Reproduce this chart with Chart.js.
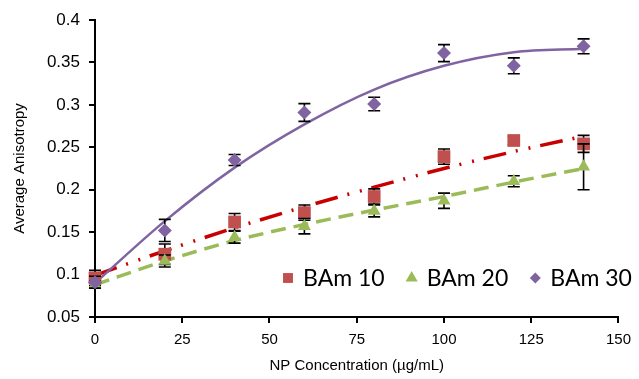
<!DOCTYPE html>
<html>
<head>
<meta charset="utf-8">
<script src="https://cdn.jsdelivr.net/npm/chart.js@4/dist/chart.umd.min.js"></script>
<style>
  html, body { margin: 0; padding: 0; background: #fff; }
  #wrap { width: 639px; height: 379px; }
</style>
</head>
<body>
<div id="wrap"><canvas id="anisoChart" width="639" height="379"></canvas></div>
<script>
// Data
const concentrations = [0, 20, 40, 60, 80, 100, 120, 140];

const bam10 = [0.096, 0.124, 0.162, 0.173, 0.192, 0.239, 0.258, 0.254];
const bam10Err = [0.009, 0.012, 0.010, 0.009, 0.009, 0.009, 0.005, 0.010];

const bam20 = [0.088, 0.116, 0.144, 0.157, 0.175, 0.187, 0.210, 0.227];
const bam20Err = [0.004, 0.007, 0.007, 0.009, 0.007, 0.009, 0.0065, 0.027];

const bam30 = [0.091, 0.152, 0.235, 0.291, 0.301, 0.361, 0.346, 0.369];
const bam30Err = [0.007, 0.013, 0.0065, 0.0105, 0.008, 0.010, 0.0094, 0.0088];

// Trend lines, read at the same concentrations
const trend10 = [0.099, 0.128, 0.155, 0.180, 0.203, 0.225, 0.245, 0.263];
const trend20 = [0.088, 0.116, 0.140, 0.159, 0.176, 0.192, 0.209, 0.225];
const trend30 = [0.090, 0.163, 0.226, 0.277, 0.318, 0.346, 0.362, 0.366];

const seriesNames = ['BAm 10', 'BAm 20', 'BAm 30'];

const xMin = 0, xMax = 150, xStep = 25;
const yMin = 0.05, yMax = 0.4, yStep = 0.05;

const toPoints = (ys) => concentrations.map((c, i) => ({ x: c, y: ys[i] }));

// Error bars drawn just under each marker series
const errorBars = {
    id: 'errorBars',
    beforeDatasetDraw(chart, args) {
        const ds = chart.data.datasets[args.index];
        if (!ds.errors) return;
        const { ctx, scales: { x, y } } = chart;
        ctx.save();
        ctx.strokeStyle = '#000';
        ctx.lineWidth = 1.6;
        ds.data.forEach((p, i) => {
            const px = x.getPixelForValue(p.x);
            const top = y.getPixelForValue(p.y + ds.errors[i]);
            const bot = y.getPixelForValue(p.y - ds.errors[i]);
            ctx.beginPath();
            ctx.moveTo(px, top); ctx.lineTo(px, bot);
            ctx.moveTo(px - 6, top); ctx.lineTo(px + 6, top);
            ctx.moveTo(px - 6, bot); ctx.lineTo(px + 6, bot);
            ctx.stroke();
        });
        ctx.restore();
    }
};

// Legend sits inside the plot, bottom right
const insideLegend = {
    id: 'insideLegend',
    afterDraw(chart) {
        const ctx = chart.ctx;
        const items = chart.data.datasets.filter(d => d.legendRadius);
        ctx.save();
        ctx.font = '23px Lato';
        ctx.textBaseline = 'middle';
        ctx.textAlign = 'left';
        let x = 282;
        const y = 278;
        items.forEach(d => {
            ctx.fillStyle = d.backgroundColor;
            Chart.helpers.drawPoint(ctx, {
                pointStyle: d.pointStyle, radius: d.legendRadius, rotation: 0, borderWidth: 0
            }, x + 6, y);
            ctx.fillStyle = '#000';
            ctx.fillText(d.label, x + 21, y + 1);
            x += 21 + ctx.measureText(d.label).width + 21;
        });
        ctx.restore();
    }
};

Chart.defaults.font.family = "'Liberation Sans', Arial, sans-serif";
Chart.defaults.color = '#000';

const markerSeries = (label, ys, errs, color, style, radius, legendRadius, order) => ({
    label,
    data: toPoints(ys),
    errors: errs,
    backgroundColor: color,
    borderColor: color,
    pointStyle: style,
    pointRadius: radius,
    pointHoverRadius: radius,
    pointBorderWidth: 0,
    showLine: false,
    legendRadius,
    order,
    clip: false
});

const trendSeries = (ys, color, width, dash, order) => ({
    label: 'trend',
    data: toPoints(ys),
    borderColor: color,
    borderWidth: width,
    borderDash: dash,
    pointRadius: 0,
    showLine: true,
    cubicInterpolationMode: 'monotone',
    order,
    clip: false
});

new Chart(document.getElementById('anisoChart'), {
    type: 'scatter',
    data: {
        datasets: [
            trendSeries(trend20, '#9BBB59', 3.5, [15, 8], 12),
            trendSeries(trend10, '#C80000', 3.5, [23, 10, 2, 11, 2, 10], 11),
            trendSeries(trend30, '#8064A2', 2.5, [], 10),
            markerSeries(seriesNames[0], bam10, bam10Err, '#C0504D', 'rect', 9, 7, 3),
            markerSeries(seriesNames[1], bam20, bam20Err, '#9BBB59', 'triangle', 7.5, 7, 2),
            markerSeries(seriesNames[2], bam30, bam30Err, '#8064A2', 'rectRot', 7, 5.5, 1)
        ]
    },
    options: {
        responsive: false,
        animation: false,
        layout: { padding: { left: 0, top: 20, right: 17, bottom: 0 } },
        plugins: {
            legend: { display: false },
            tooltip: { enabled: false }
        },
        scales: {
            x: {
                type: 'linear',
                min: xMin,
                max: xMax,
                ticks: { stepSize: xStep, font: { size: 15 }, padding: 8, color: '#000' },
                grid: { drawOnChartArea: false, drawTicks: true, tickLength: 6, color: '#000', lineWidth: 2 },
                border: { color: '#000', width: 2 },
                title: {
                    display: true,
                    text: 'NP Concentration (µg/mL)',
                    font: { size: 15 },
                    padding: { top: 0, bottom: 4 }
                },
                afterFit: (s) => { s.height = 62; }
            },
            y: {
                min: yMin,
                max: yMax,
                ticks: {
                    stepSize: yStep,
                    font: { size: 17 },
                    padding: 9,
                    color: '#000',
                    callback: (v) => String(+v.toFixed(2))
                },
                grid: { drawOnChartArea: false, drawTicks: true, tickLength: 6, color: '#000', lineWidth: 2 },
                border: { color: '#000', width: 2 },
                title: {
                    display: true,
                    text: 'Average Anisotropy',
                    font: { size: 15 },
                    padding: { top: 11, bottom: 0 }
                },
                afterFit: (s) => { s.width = 95; }
            }
        }
    },
    plugins: [errorBars, insideLegend]
});
</script>
</body>
</html>
